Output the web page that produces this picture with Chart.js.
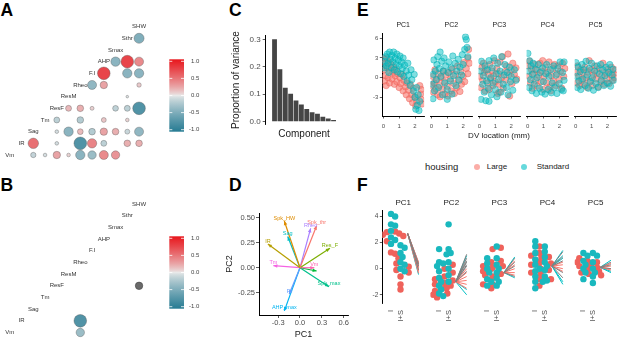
<!DOCTYPE html>
<html>
<head>
<meta charset="utf-8">
<title>Electrophysiology PCA figure</title>
<script src="https://cdn.jsdelivr.net/npm/chart.js@4.4.1/dist/chart.umd.min.js"></script>
<style>
  body { margin: 0; background: #fff; }
  #fig { position: relative; width: 617px; height: 339px; overflow: hidden; font-family: "Liberation Sans", Arial, sans-serif; }
  #fig canvas { position: absolute; }
  .tag { position: absolute; font-size: 17.5px; font-weight: bold; line-height: 1; color: #000; }
  .leg { position: absolute; line-height: 1; white-space: nowrap; color: #1a1a1a; }
  .dot { position: absolute; width: 6px; height: 6px; border-radius: 50%; }
</style>
</head>
<body>
<div id="fig">
  <div class="tag" style="left:0.5px;top:1.7px">A</div>
  <div class="tag" style="left:0.5px;top:176.7px">B</div>
  <div class="tag" style="left:229px;top:1.7px">C</div>
  <div class="tag" style="left:229px;top:176.7px">D</div>
  <div class="tag" style="left:357px;top:1.7px">E</div>
  <div class="tag" style="left:357px;top:176.7px">F</div>
  <div class="leg" style="left:425px;top:162px;font-size:9.5px">housing</div>
  <div class="dot" style="left:474.3px;top:163.7px;background:rgba(248,118,109,0.6)"></div>
  <div class="leg" style="left:486.7px;top:162.8px;font-size:8px">Large</div>
  <div class="dot" style="left:521px;top:163.7px;background:rgba(0,191,196,0.6)"></div>
  <div class="leg" style="left:536.7px;top:162.8px;font-size:8px">Standard</div>
</div>
<script>
// ---------------- data ----------------
const vars = ['Vm', 'IR', 'Sag', 'Tm', 'ResF', 'ResM', 'Rheo', 'F.I', 'AHP', 'Smax', 'Sthr', 'SHW'];
const corrTicks = [1.0, 0.5, 0.0, -0.5, -1.0];

// A: correlations shown (row variable, column variable, r)
const corrA = [
  ['Sthr', 'SHW', -0.46],
  ['AHP', 'Smax', -0.40], ['AHP', 'Sthr', 0.73], ['AHP', 'SHW', 0.37],
  ['F.I', 'AHP', 0.73], ['F.I', 'Sthr', -0.40], ['F.I', 'SHW', -0.40],
  ['Rheo', 'F.I', -0.37], ['Rheo', 'AHP', 0.25], ['Rheo', 'SHW', 0.09],
  ['ResM', 'Sthr', -0.03],
  ['ResF', 'ResM', 0.16], ['ResF', 'Rheo', 0.2], ['ResF', 'F.I', 0.07], ['ResF', 'Smax', -0.15], ['ResF', 'Sthr', -0.16], ['ResF', 'SHW', -0.73],
  ['Tm', 'ResF', -0.16], ['Tm', 'Rheo', -0.2], ['Tm', 'AHP', 0.11], ['Tm', 'Sthr', 0.06],
  ['Sag', 'ResF', -0.06], ['Sag', 'ResM', -0.4], ['Sag', 'Rheo', 0.15], ['Sag', 'F.I', -0.2], ['Sag', 'AHP', 0.25], ['Sag', 'Smax', 0.2], ['Sag', 'Sthr', -0.11], ['Sag', 'SHW', -0.37],
  ['IR', 'Sag', 0.5], ['IR', 'ResF', -0.06], ['IR', 'Rheo', -0.73], ['IR', 'F.I', 0.4], ['IR', 'AHP', -0.16], ['IR', 'Sthr', 0.2], ['IR', 'SHW', 0.2],
  ['Vm', 'Sag', -0.13], ['Vm', 'Tm', -0.06], ['Vm', 'ResF', 0.25], ['Vm', 'ResM', 0.06], ['Vm', 'Rheo', -0.4], ['Vm', 'F.I', -0.32], ['Vm', 'AHP', 0.37], ['Vm', 'Smax', 0.32]
];
// B: remaining correlations
const corrB = [['IR', 'Rheo', -0.73], ['Vm', 'Rheo', -0.32]];
const corrBna = [['ResF', 'SHW', 0.25]];

// C: variance explained per component
const components = [1, 2, 3, 4, 5, 6, 7, 8, 9, 10, 11, 12];
const varExplained = [0.300, 0.191, 0.124, 0.102, 0.077, 0.063, 0.046, 0.034, 0.029, 0.018, 0.012, 0.006];
const cTicks = [0.0, 0.1, 0.2, 0.3];

// D: loadings
const loadNames = ['Spk_HW', 'Spk_thr', 'Rheo', 'Sag', 'IR', 'Res_F', 'Tm', 'Vm', '', 'Spk_max', 'FI', 'AHP_max'];
const loadPC1 = [-0.215, 0.228, 0.146, -0.168, -0.44, 0.41, -0.365, 0.196, 0.228, 0.397, -0.147, -0.215];
const loadPC2 = [0.465, 0.418, 0.392, 0.31, 0.236, 0.193, 0.02, 0.0, -0.033, -0.19, -0.262, -0.43];
const loadColors = ['#DE8C00', '#F8766D', '#A97EFF', '#00BFC4', '#B79F00', '#7CAE00', '#F564E3', '#FF64B0', '#00BA38', '#00C08B', '#619CFF', '#00B4F0'];
const dTicksX = [-0.3, 0.0, 0.3, 0.6];
const dTicksY = [-0.25, 0.0, 0.25, 0.5];

// E: PC scores vs DV location  [x, y]
const pcNames = ['PC1', 'PC2', 'PC3', 'PC4', 'PC5'];
const eTicksX = [0, 1, 2];
const eTicksY = [-3, 0, 3, 6];
const eStd1 = [[0.05,1.5],[0.1,2.5],[0.15,3.2],[0.2,1.8],[0.25,3.6],[0.3,2.2],[0.35,0.8],[0.4,3.9],[0.45,2.8],[0.5,1.5],[0.55,3.4],[0.6,2.4],[0.65,3.9],[0.7,1.2],[0.75,3.0],[0.8,2.0],[0.85,3.6],[0.9,0.9],[0.95,2.7],[1.0,1.8],[1.05,3.3],[1.1,0.6],[1.15,2.4],[1.2,1.4],[1.25,3.0],[1.3,0.2],[1.35,1.9],[1.45,1.0],[1.5,-0.5],[1.55,2.2],[1.6,0.4],[1.7,-1.2],[1.75,1.2],[1.8,-0.3],[1.9,-2.0],[1.95,0.5],[2.0,-3.0],[2.1,-1.5],[2.15,-4.2],[2.2,-2.6],[2.25,-5.0],[2.3,-3.6],[2.05,-4.8]];
const eLrg1 = [[0.02,2.9],[0.05,1.2],[0.08,-0.5],[0.12,2.2],[0.15,0.3],[0.18,-1.2],[0.2,3.0],[0.25,1.5],[0.3,0.0],[0.35,2.4],[0.4,-0.8],[0.45,1.0],[0.5,2.0],[0.55,-0.2],[0.6,0.8],[0.65,1.6],[0.7,-1.0],[0.75,0.3],[0.8,1.2],[0.85,-0.6],[0.9,0.6],[1.0,-1.5],[1.05,0.0],[1.1,-0.9],[1.2,0.5],[1.25,-2.0],[1.3,-0.4],[1.4,-1.4],[1.45,-2.6],[1.5,-0.8],[1.6,-1.9],[1.65,-3.2],[1.7,-1.0],[1.8,-2.6],[1.85,-3.8],[1.9,-1.6],[2.0,-2.9],[2.05,-4.3],[2.1,-3.5],[2.3,-1.2],[2.35,-2.5],[2.4,-3.3],[2.45,-4.0],[2.4,-1.8]];
const eStd2 = [[0.05,-1.0],[0.1,0.5],[0.15,2.7],[0.2,-2.0],[0.25,1.0],[0.3,-0.3],[0.35,2.0],[0.4,3.2],[0.45,-1.5],[0.5,1.4],[0.55,3.9],[0.6,0.2],[0.65,2.5],[0.7,-2.6],[0.75,1.0],[0.8,3.0],[0.85,-0.8],[0.9,1.8],[1.0,-1.8],[1.05,0.8],[1.1,2.4],[1.2,-0.5],[1.25,1.5],[1.3,-2.5],[1.35,3.3],[1.4,0.3],[1.5,2.2],[1.55,-1.2],[1.6,1.0],[1.7,2.8],[1.75,-0.4],[1.8,1.6],[1.9,0.4],[1.95,3.5],[2.0,2.0],[2.1,4.3],[2.15,6.2],[2.2,5.8],[2.25,4.6],[2.3,3.2],[0.1,-3.2],[1.0,-3.3]];
const eLrg2 = [[0.02,-1.2],[0.08,0.2],[0.12,-2.2],[0.18,-0.8],[0.22,1.2],[0.28,-1.7],[0.35,-0.3],[0.4,-2.6],[0.45,0.6],[0.5,-1.2],[0.55,-2.9],[0.6,0.0],[0.7,-1.8],[0.75,1.0],[0.8,-0.6],[0.85,-2.5],[0.9,0.4],[1.0,-1.3],[1.05,-2.8],[1.1,0.8],[1.2,-0.2],[1.25,-2.0],[1.3,1.3],[1.4,-0.9],[1.45,-2.4],[1.5,0.5],[1.6,-1.5],[1.65,1.8],[1.7,-0.3],[1.8,-2.1],[1.85,0.9],[1.9,-1.0],[2.0,0.2],[2.05,2.3],[2.1,-0.6],[2.2,1.4],[2.3,3.0],[2.35,4.3],[2.4,2.2],[2.3,0.6]];
const eStd3 = [[0.05,1.0],[0.1,-3.3],[0.12,2.5],[0.2,-1.0],[0.25,0.3],[0.3,-2.2],[0.35,1.8],[0.4,-3.5],[0.45,-0.5],[0.5,1.2],[0.55,-1.6],[0.6,2.6],[0.7,0.0],[0.75,-2.6],[0.8,1.5],[0.85,-0.8],[0.9,3.0],[1.0,-1.8],[1.05,0.6],[1.1,-2.9],[1.15,2.2],[1.2,-0.3],[1.3,1.0],[1.35,-2.2],[1.4,3.2],[1.5,-1.0],[1.55,0.4],[1.6,2.0],[1.7,-1.5],[1.75,0.8],[1.8,-2.6],[1.9,1.6],[1.95,-0.6],[2.0,0.2],[2.1,-1.9],[2.2,1.2],[2.3,-0.4],[0.6,-3.6]];
const eLrg3 = [[0.02,0.2],[0.08,-1.5],[0.15,1.6],[0.2,-0.4],[0.25,2.2],[0.3,0.8],[0.35,-2.0],[0.4,1.2],[0.5,-0.8],[0.55,0.5],[0.6,-1.8],[0.65,2.0],[0.7,-0.2],[0.8,1.0],[0.85,-1.2],[0.9,0.3],[0.95,2.6],[1.0,-0.6],[1.1,1.4],[1.15,-2.4],[1.2,0.6],[1.25,-1.0],[1.3,2.4],[1.4,0.0],[1.45,3.2],[1.5,-1.6],[1.6,0.9],[1.65,-0.4],[1.7,1.8],[1.8,3.6],[1.85,0.4],[1.9,-2.8],[2.0,1.2],[2.05,-0.9],[2.1,2.2],[2.2,0.5],[2.3,1.5],[2.35,-0.2],[1.25,-2.2]];
const eStd4 = [[0.02,3.7],[0.05,1.0],[0.08,-1.5],[0.12,2.6],[0.18,-0.3],[0.22,1.8],[0.28,-2.0],[0.3,0.5],[0.35,2.2],[0.42,-1.0],[0.5,1.3],[0.55,-2.4],[0.6,0.0],[0.68,2.0],[0.75,-1.6],[0.8,0.8],[0.9,-2.2],[0.95,1.5],[1.0,-0.6],[1.1,-2.5],[1.15,0.6],[1.2,2.0],[1.3,-1.8],[1.35,0.2],[1.45,1.2],[1.5,-2.3],[1.55,-0.8],[1.65,1.8],[1.7,-1.5],[1.8,0.4],[1.85,-2.4],[1.9,1.4],[2.0,-0.9],[2.05,2.4],[2.15,-1.8],[2.2,0.8],[2.3,-0.4],[2.3,2.4],[2.25,-2.0]];
const eLrg4 = [[0.02,1.8],[0.08,0.2],[0.12,2.5],[0.18,-0.8],[0.25,1.2],[0.3,-1.6],[0.38,0.6],[0.45,2.0],[0.5,-0.4],[0.58,1.2],[0.62,-1.3],[0.7,0.4],[0.78,2.2],[0.85,-0.6],[0.9,1.0],[1.0,-1.8],[1.05,0.2],[1.12,1.6],[1.2,-0.8],[1.28,0.8],[1.35,2.4],[1.4,-1.4],[1.5,0.3],[1.58,1.4],[1.62,-0.5],[1.7,2.0],[1.78,-1.2],[1.85,0.6],[1.92,1.8],[2.0,-0.3],[2.08,1.0],[2.15,-1.6],[2.2,2.2],[2.28,0.2],[2.35,1.4],[0.95,2.6],[1.45,-2.0]];
const eStd5 = [[0.02,2.3],[0.05,0.2],[0.1,-1.5],[0.15,1.6],[0.2,-0.5],[0.28,0.9],[0.32,-1.8],[0.4,2.0],[0.45,-0.2],[0.52,1.2],[0.6,-1.2],[0.65,2.5],[0.72,0.4],[0.8,-1.6],[0.85,1.4],[0.92,-0.6],[1.0,2.2],[1.05,0.0],[1.12,-1.9],[1.2,1.0],[1.28,-0.9],[1.35,1.8],[1.42,-1.5],[1.5,0.6],[1.58,2.0],[1.62,-0.4],[1.7,1.2],[1.78,-1.2],[1.85,0.3],[1.92,1.6],[2.0,-0.8],[2.08,0.8],[2.15,2.0],[2.2,-1.3],[2.3,0.4],[2.35,1.3],[2.4,-0.4]];
const eLrg5 = [[0.02,0.8],[0.08,-0.8],[0.12,1.8],[0.2,0.2],[0.25,-1.2],[0.32,1.2],[0.38,-0.3],[0.45,0.8],[0.52,-1.0],[0.58,1.6],[0.65,0.0],[0.72,-1.5],[0.78,0.9],[0.85,2.6],[0.9,-0.5],[0.98,1.2],[1.05,-1.2],[1.12,0.4],[1.2,1.8],[1.28,-0.2],[1.35,0.8],[1.42,-1.4],[1.5,1.4],[1.58,-0.6],[1.65,0.3],[1.72,2.2],[1.8,-1.0],[1.88,0.8],[1.95,-0.2],[2.02,1.3],[2.1,-0.9],[2.18,0.5],[2.25,1.6],[2.32,-0.4],[2.4,0.6],[2.45,0.0],[2.5,1.2]];
const eStd = [eStd1, eStd2, eStd3, eStd4, eStd5];
const eLrg = [eLrg1, eLrg2, eLrg3, eLrg4, eLrg5];

// F: PC scores by condition, per PC: [Standard, Large]
const fCats = ['I', 'I+S'];
const fTicksY = [-2, 0, 2, 4];
const fStdI  = [[4.2,4.0,3.4,3.3,2.9,2.4,2.2,1.9], [1.5,0.5,0.4,0.2,-0.2,-0.7,-1.0,-1.3,-1.6,-1.9,-2.1], [0.8,0.4,0.0,-0.3,-0.8,-1.0,-1.3], [2.1,1.7,1.2,0.7,0.3,-0.2,-0.6,-1.0,-1.5,0.0], [1.2,1.0,0.6,0.3,0.0,-0.3,-0.8]];
const fLrgI  = [[2.85,2.8,2.7,2.6,2.5,2.1,1.25,1.15], [-0.8,-1.2,-1.4,-1.7,-1.9,-2.0,-2.2], [0.5,0.2,-0.2,-0.5,-0.7,-1.2,-1.5,0.0], [1.7,1.2,1.0,0.9,0.5,0.3,-0.3,-0.8,-1.3], [0.8,0.6,0.5,0.4,0.2,0.0,-0.3]];
const fStdIS = [[1.8,1.6,1.2,0.9,0.5,0.3,0.0,-0.2], [3.4,1.5,1.2,1.1,0.5,0.0,-0.5,-1.0], [1.7,0.8,0.3,-0.3,-0.7,-1.0,-1.3,0.0], [1.7,1.3,0.9,0.5,-0.1,-0.6,-0.9,-1.0,0.2], [1.2,1.0,0.5,0.0,-0.3,-0.6,-1.1]];
const fLrgIS = [[0.8,0.4,0.15,-0.1,-0.3,-0.6,-1.2,-1.6], [0.3,0.0,-0.3,-0.9,-1.1,-1.3,-1.5,-0.6], [1.6,1.5,0.6,0.1,-0.4,-0.6,-1.2,0.2], [0.9,0.6,0.4,0.3,-0.1,-0.4,-0.8,0.0], [0.5,0.3,0.1,0.0,-0.2,-0.4,-0.5]];
// F: per-animal slopes, start value then end values by group
const fLineX = [2.75, 3.9];
const fLineStart = [2.7, -1.0, -0.3, 0.2, 0.1];
const fLineGrey = [[0.2,-0.1,0.35], [1.1,0.8,0.5,0.2,-0.2,0.6,0.3], [0.8,0.5,0.2,-0.6], [1.3,0.9,0.6,-0.3,-0.7], [0.5,0.3,0.0]];
const fLineLrg  = [[0.5,0.3,0.15,0.0,-0.2,-0.35,0.4,0.1], [-0.6,-0.9,-1.2,-1.5,-0.3,0.0], [0.6,0.3,0.0,-0.3,-0.5], [0.5,0.3,0.0,-0.2], [0.4,0.2,0.0,-0.1]];
const fLineStd  = [[-0.45,0.45], [-2.0,-1.6,1.0], [-0.7,0.9], [1.4,1.0,-1.0,-1.2,0.8], [0.65,-0.3,-0.2]];

// ---------------- setup ----------------
Chart.defaults.font.family = '"Liberation Sans", Arial, sans-serif';
Chart.defaults.color = '#4d4d4d';
Chart.defaults.animation = false;
Chart.defaults.responsive = false;
Chart.defaults.maintainAspectRatio = false;
Chart.defaults.events = [];
Chart.defaults.layout.autoPadding = false;
Chart.defaults.plugins.legend.display = false;
Chart.defaults.plugins.tooltip.enabled = false;

const TEAL = '#00BFC4', SALMON = '#F8766D';
const fig = document.getElementById('fig');

function makeCanvas(left, top, w, h) {
  const c = document.createElement('canvas');
  c.width = w; c.height = h;
  c.style.left = left + 'px'; c.style.top = top + 'px';
  c.style.width = w + 'px'; c.style.height = h + 'px';
  fig.appendChild(c);
  return c.getContext('2d');
}
const fixedTicks = list => s => { s.ticks = list.map(v => ({ value: v })); };
const axisLine = { display: true, color: '#000', width: 1 };
const tickMarks = len => ({ display: true, drawOnChartArea: false, drawTicks: true, tickLength: len, color: '#333', lineWidth: 0.8 });
// an empty axis used only to reserve space beside the plot
const spacer = (position, size) => ({
  type: 'linear', position, display: true,
  ticks: { display: false }, grid: { display: false }, border: { display: false },
  afterFit: s => { if (position === 'top' || position === 'bottom') s.height = size; else s.width = size; }
});

// correlation colour scale
const LOW = [38, 123, 147], MID = [233, 233, 233], HIGH = [232, 22, 28];
function corrColor(v) {
  const t = Math.pow(Math.min(1, Math.abs(v)), 0.8), end = v < 0 ? LOW : HIGH;
  const c = MID.map((m, i) => Math.round(m + (end[i] - m) * t));
  return `rgb(${c[0]},${c[1]},${c[2]})`;
}

// ---------------- A & B: correlation triangles ----------------
const CELL_X = 11.75, CELL_Y = 11.67, DIAG_X0 = 9.8;
const diagLabels = {
  id: 'diagLabels',
  afterDatasetsDraw(chart) {
    const { ctx, scales: { x, y } } = chart;
    ctx.save();
    ctx.font = '6px "Liberation Sans", Arial, sans-serif';
    ctx.fillStyle = '#333';
    ctx.textAlign = 'center'; ctx.textBaseline = 'middle';
    vars.forEach((v, i) => ctx.fillText(v, x.getPixelForValue(i), y.getPixelForValue(i)));
    ctx.restore();
  }
};
const colorbar = {
  id: 'colorbar',
  afterDraw(chart) {
    const ctx = chart.ctx, bx = 169.3, bw = 14.7, top = 44.3, h = 72.4;
    const g = ctx.createLinearGradient(0, top, 0, top + h);
    for (let i = 0; i <= 40; i++) g.addColorStop(i / 40, corrColor(1 - i / 20));
    ctx.save();
    ctx.fillStyle = g;
    ctx.fillRect(bx, top, bw, h);
    ctx.strokeStyle = '#fff'; ctx.lineWidth = 0.8;
    ctx.font = '6px "Liberation Sans", Arial, sans-serif';
    ctx.fillStyle = '#444'; ctx.textAlign = 'right'; ctx.textBaseline = 'middle';
    corrTicks.forEach(v => {
      const ty = top + 2 + (1 - v) / 2 * (h - 4);
      ctx.beginPath();
      ctx.moveTo(bx, ty); ctx.lineTo(bx + 3, ty);
      ctx.moveTo(bx + bw - 3, ty); ctx.lineTo(bx + bw, ty);
      ctx.stroke();
      ctx.fillText(v.toFixed(1), 199.3, ty);
    });
    ctx.restore();
  }
};
function corrPanel(top, height, diagY, pairs, naPairs) {
  const W = 215, ctx = makeCanvas(0, top, W, height);
  const y0 = diagY - top;
  const toPoint = ([r, c, v]) => ({ x: vars.indexOf(c), y: vars.indexOf(r), r: 7.4 * Math.sqrt(Math.abs(v)), v });
  const pts = pairs.map(toPoint), na = naPairs.map(toPoint);
  new Chart(ctx, {
    type: 'bubble',
    data: {
      datasets: [
        { data: pts, backgroundColor: pts.map(p => corrColor(p.v)), borderColor: 'rgba(90,90,90,0.55)', borderWidth: 0.7, clip: false },
        { data: na, backgroundColor: '#6a6a6a', borderColor: '#4a4a4a', borderWidth: 0.7, clip: false }
      ]
    },
    options: {
      layout: { padding: 0 },
      scales: {
        x: { type: 'linear', display: false, min: -DIAG_X0 / CELL_X, max: (W - DIAG_X0) / CELL_X },
        y: { type: 'linear', display: false, min: -(height - y0) / CELL_Y, max: y0 / CELL_Y }
      }
    },
    plugins: [diagLabels, colorbar]
  });
}
corrPanel(15, 150, 155, corrA, []);
corrPanel(192, 147, 332.5, corrB, corrBna);

// ---------------- C: scree plot ----------------
new Chart(makeCanvas(228, 21, 118, 118), {
  type: 'bar',
  data: {
    datasets: [{
      data: components.map((c, i) => ({ x: c, y: varExplained[i] })),
      backgroundColor: '#454545', borderWidth: 0,
      barPercentage: 0.9, categoryPercentage: 1.0
    }]
  },
  options: {
    layout: { padding: { top: 0, right: 3.6, left: 0, bottom: 0 } },
    plugins: {
      title: { display: true, position: 'left', text: 'Proportion of variance', color: '#1a1a1a', font: { size: 10, weight: 'normal' }, padding: { top: 2, bottom: 0 } }
    },
    scales: {
      x: {
        type: 'linear', min: -0.05, max: 13.05,
        afterBuildTicks: fixedTicks(components),
        ticks: { display: false }, grid: { display: false }, border: { display: false },
        title: { display: true, text: 'Component', color: '#1a1a1a', font: { size: 10, lineHeight: 1 }, padding: 0 },
        afterFit: s => { s.height = 15; }
      },
      xTop: spacer('top', 14),
      y: {
        min: -0.0084, max: 0.3157,
        afterBuildTicks: fixedTicks(cTicks),
        ticks: { font: { size: 8 }, padding: 2, callback: v => v.toFixed(1) },
        grid: tickMarks(3), border: axisLine,
        afterFit: s => { s.width = 23.7; }
      }
    }
  }
});

// ---------------- D: loading biplot ----------------
const arrowsAndLabels = {
  id: 'arrowsAndLabels',
  afterDatasetsDraw(chart) {
    const { ctx, scales: { x, y } } = chart;
    ctx.save();
    chart.data.datasets.forEach(ds => {
      const [p0, p1] = ds.data;
      const x0 = x.getPixelForValue(p0.x), y0 = y.getPixelForValue(p0.y);
      const x1 = x.getPixelForValue(p1.x), y1 = y.getPixelForValue(p1.y);
      const a = Math.atan2(y1 - y0, x1 - x0), L = 4, w = 1.8;
      ctx.fillStyle = ds.borderColor;
      ctx.beginPath();
      ctx.moveTo(x1, y1);
      ctx.lineTo(x1 - L * Math.cos(a) + w * Math.sin(a), y1 - L * Math.sin(a) - w * Math.cos(a));
      ctx.lineTo(x1 - L * Math.cos(a) - w * Math.sin(a), y1 - L * Math.sin(a) + w * Math.cos(a));
      ctx.closePath(); ctx.fill();
    });
    ctx.font = '5.5px "Liberation Sans", Arial, sans-serif';
    ctx.textAlign = 'center'; ctx.textBaseline = 'middle';
    chart.data.datasets.forEach(ds => {
      const p1 = ds.data[1];
      ctx.fillStyle = ds.borderColor;
      ctx.fillText(ds.label, x.getPixelForValue(p1.x), y.getPixelForValue(p1.y) - 3);
    });
    ctx.restore();
  }
};
new Chart(makeCanvas(222, 205, 130, 134), {
  type: 'scatter',
  data: {
    datasets: loadNames.map((n, i) => ({
      label: n,
      data: [{ x: 0, y: 0 }, { x: loadPC1[i], y: loadPC2[i] }],
      showLine: true, borderColor: loadColors[i], borderWidth: 1.2, pointRadius: 0
    }))
  },
  options: {
    layout: { padding: { top: 8, right: 4, left: 0, bottom: 0 } },
    scales: {
      x: {
        type: 'linear', min: -0.562, max: 0.658,
        afterBuildTicks: fixedTicks(dTicksX),
        ticks: { font: { size: 7.5 }, padding: 0.8, maxRotation: 0, callback: v => v.toFixed(1) },
        grid: tickMarks(3), border: axisLine,
        title: { display: true, text: 'PC1', color: '#1a1a1a', font: { size: 9, lineHeight: 1 }, padding: 0 },
        afterFit: s => { s.height = 24; }
      },
      y: {
        type: 'linear', min: -0.471, max: 0.545,
        afterBuildTicks: fixedTicks(dTicksY),
        ticks: { font: { size: 7.5 }, padding: 1, callback: v => v.toFixed(2) },
        grid: tickMarks(3), border: axisLine,
        title: { display: true, text: 'PC2', color: '#1a1a1a', font: { size: 9, lineHeight: 1 }, padding: { top: 3.5, bottom: 0 } },
        afterFit: s => { s.width = 37; }
      }
    }
  },
  plugins: [arrowsAndLabels]
});

// ---------------- E & F: facets ----------------
const FACET_L0 = 382.3, FACET_STEP = 48.1, FACET_W = 41.8;
function facetBox(k, wide) {
  const L = FACET_L0 + FACET_STEP * k;
  const left = k === 0 ? 356 : Math.floor(L - wide);
  const padL = k === 0 ? 0 : L - left;
  return { left, padL, yW: L - left, padR: 70 - (L - left) - FACET_W };
}

// E
const E_TOP = 18, E_H = 124, E_PXX = 15.85, E_AXIS_H = E_H - (116 - E_TOP), E_SUB_H = 10.8;
pcNames.forEach((name, k) => {
  const b = facetBox(k, 14);
  const withTitle = k === 2;
  const scales = {
    x: {
      type: 'linear', min: -1 / E_PXX, max: (FACET_W - 1) / E_PXX,
      afterBuildTicks: fixedTicks(eTicksX),
      ticks: { font: { size: 6 }, padding: 3.9, maxRotation: 0, autoSkip: false },
      grid: tickMarks(2.5), border: axisLine,
      afterFit: s => { s.height = withTitle ? E_AXIS_H - E_SUB_H : E_AXIS_H; }
    },
    y: {
      type: 'linear', display: k === 0, min: -5.83, max: 6.74,
      afterBuildTicks: fixedTicks(eTicksY),
      ticks: { font: { size: 6 }, padding: 1.5 },
      grid: tickMarks(2.5), border: axisLine,
      afterFit: s => { s.width = k === 0 ? b.yW : 0; }
    }
  };
  if (withTitle) {
    // reserve side space with empty axes so the bottom caption may span the whole canvas
    scales.padLeft = spacer('left', b.padL);
    scales.padRight = spacer('right', b.padR);
  }
  new Chart(makeCanvas(b.left, E_TOP, 70, E_H), {
    type: 'scatter',
    data: {
      datasets: [
        { data: eStd[k].map(([x, y]) => ({ x, y })), backgroundColor: 'rgba(0,191,196,0.5)', borderColor: 'rgba(0,170,176,0.6)', borderWidth: 0.7, pointRadius: 3.2 },
        { data: eLrg[k].map(([x, y]) => ({ x, y })), backgroundColor: 'rgba(248,118,109,0.6)', borderColor: 'rgba(235,100,92,0.65)', borderWidth: 0.7, pointRadius: 3.2 }
      ]
    },
    options: {
      layout: { padding: { left: withTitle ? 0 : b.padL, right: withTitle ? 0 : b.padR, top: 0, bottom: 0 } },
      plugins: {
        title: { display: true, text: name, fullSize: false, color: '#1a1a1a', font: { size: 7, weight: 'normal' }, padding: { top: 3, bottom: 4 } },
        subtitle: { display: withTitle, position: 'bottom', text: 'DV location (mm)', color: '#1a1a1a', font: { size: 8 }, padding: { top: 0, bottom: 1.2 } }
      },
      scales
    }
  });
});

// F
const F_TOP = 194, F_H = 145, F_PXX = 9.5, F_PXY = 13.05, DOT_D = 6.4;
function swarm(groups, center) {
  // place dots of one column side by side, allowing some overlap
  const placed = [];
  return groups.map(ys => ys.map(y => {
    const py = y * F_PXY;
    for (let i = 0; ; i++) {
      const off = (i % 2 ? 1 : -1) * Math.ceil(i / 2) * DOT_D * 0.32;
      if (placed.every(p => Math.hypot(p.x - off, p.y - py) >= DOT_D * 0.62)) {
        placed.push({ x: off, y: py });
        return { x: center + off / F_PXX, y };
      }
    }
  }));
}
function slopeSets(k, ends, color) {
  return ends[k].map(e => ({
    data: [{ x: fLineX[0], y: fLineStart[k] }, { x: fLineX[1], y: e }],
    showLine: true, borderColor: color, borderWidth: 1, pointRadius: 0
  }));
}
pcNames.forEach((name, k) => {
  const b = facetBox(k, 14);
  const [sI, lI] = swarm([fStdI[k], fLrgI[k]], 1);
  const [sIS, lIS] = swarm([fStdIS[k], fLrgIS[k]], 2);
  new Chart(makeCanvas(b.left, F_TOP, 70, F_H), {
    type: 'scatter',
    data: {
      datasets: [
        ...slopeSets(k, fLineGrey, '#7f7f7f'),
        ...slopeSets(k, fLineLrg, SALMON),
        ...slopeSets(k, fLineStd, TEAL),
        { data: sI.concat(sIS), backgroundColor: '#19B8BE', borderWidth: 0, pointRadius: 3.2 },
        { data: lI.concat(lIS), backgroundColor: '#EF625B', borderWidth: 0, pointRadius: 3.2 }
      ]
    },
    options: {
      layout: { padding: { left: b.padL, right: b.padR, top: 0, bottom: 0 } },
      plugins: { title: { display: true, text: name, fullSize: false, color: '#1a1a1a', font: { size: 8, weight: 'normal' }, padding: { top: 3.9, bottom: 2.5 } } },
      scales: {
        x: {
          type: 'linear', min: 0.084, max: 0.084 + FACET_W / F_PXX,
          afterBuildTicks: fixedTicks([1, 2]),
          ticks: { font: { size: 7.5 }, color: '#4d4d4d', padding: 6.7, minRotation: 90, maxRotation: 90, autoSkip: false, callback: v => fCats[v - 1] },
          grid: { display: false, drawTicks: false }, border: { display: false },
          afterFit: s => { s.height = F_H - (303.3 - F_TOP); }
        },
        y: {
          type: 'linear', display: k === 0, min: -2.652, max: 4.498,
          afterBuildTicks: fixedTicks(fTicksY),
          ticks: { font: { size: 6.5 }, padding: 1.5 },
          grid: tickMarks(2.5), border: axisLine,
          afterFit: s => { s.width = k === 0 ? b.yW : 0; }
        }
      }
    }
  });
});
</script>
</body>
</html>
